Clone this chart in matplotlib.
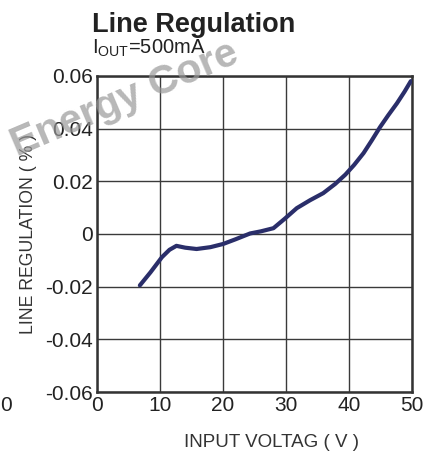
import matplotlib.pyplot as plt

plt.rcParams['font.family'] = ['Liberation Sans', 'DejaVu Sans']

# input voltage (V) vs line regulation (%) at IOUT = 500 mA
vin = [6.8, 8.5, 10.3, 11.5, 12.6, 14.0, 15.8, 18.0, 20.0, 22.0, 24.3, 26.0, 28.0,
       29.8, 31.7, 33.8, 35.9, 37.8, 39.4, 40.8, 42.3, 43.6, 44.9, 46.2, 47.6, 48.8, 49.8]
reg = [-0.0195, -0.0145, -0.0088, -0.006, -0.0045, -0.0052, -0.0057, -0.0050, -0.0038, -0.0020, 0.0002, 0.0010, 0.0022,
       0.0058, 0.0098, 0.0128, 0.0155, 0.0190, 0.0225, 0.0262, 0.0307, 0.0355, 0.0405, 0.0450, 0.0496, 0.0540, 0.0580]

xticks = [0, 10, 20, 30, 40, 50]
yticks = [-0.06, -0.04, -0.02, 0, 0.02, 0.04, 0.06]
ytick_labels = ['-0.06', '-0.04', '-0.02', '0', '0.02', '0.04', '0.06']

fig = plt.figure(figsize=(4.37, 4.57), dpi=100)
ax = fig.add_axes([0.222, 0.142, 0.721, 0.692])

ax.plot(vin, reg, color='#2a2e6a', lw=3.0, solid_capstyle='round', zorder=3)

ax.set_xlim(0, 50)
ax.set_ylim(-0.06, 0.06)
ax.set_xticks(xticks)
ax.set_xticklabels([str(t) for t in xticks])
ax.set_yticks(yticks)
ax.set_yticklabels(ytick_labels)
ax.tick_params(length=0, labelsize=15, colors='#222222', pad=3)
ax.grid(True, color='#3a3a3a', lw=1.0)
for s in ax.spines.values():
    s.set_linewidth(1.8)
    s.set_color('#333333')

ax.set_xlabel('INPUT VOLTAG ( V )', fontsize=13.5, color='#333333')
ax.xaxis.set_label_coords(0.553, -0.133)
ax.set_ylabel('LINE REGULATION ( % )', fontsize=12.7, color='#333333', labelpad=6)

fig.text(0.211, 0.945, 'Line Regulation', fontsize=19.5, fontweight='bold', color='#222222', va='center')
fig.text(0.211, 0.895, r'I$_{\mathregular{OUT}}$=500mA', fontsize=14.5, color='#222222', va='center')
fig.text(0.0, 0.113, '0', fontsize=15, color='#222222', va='center')

# watermark
fig.text(0.285, 0.783, 'Energy Core', fontsize=29.5, fontweight='bold', color='#999999',
         alpha=0.7, rotation=23, ha='center', va='center', zorder=10)

fig.savefig('out.png', dpi=100)
